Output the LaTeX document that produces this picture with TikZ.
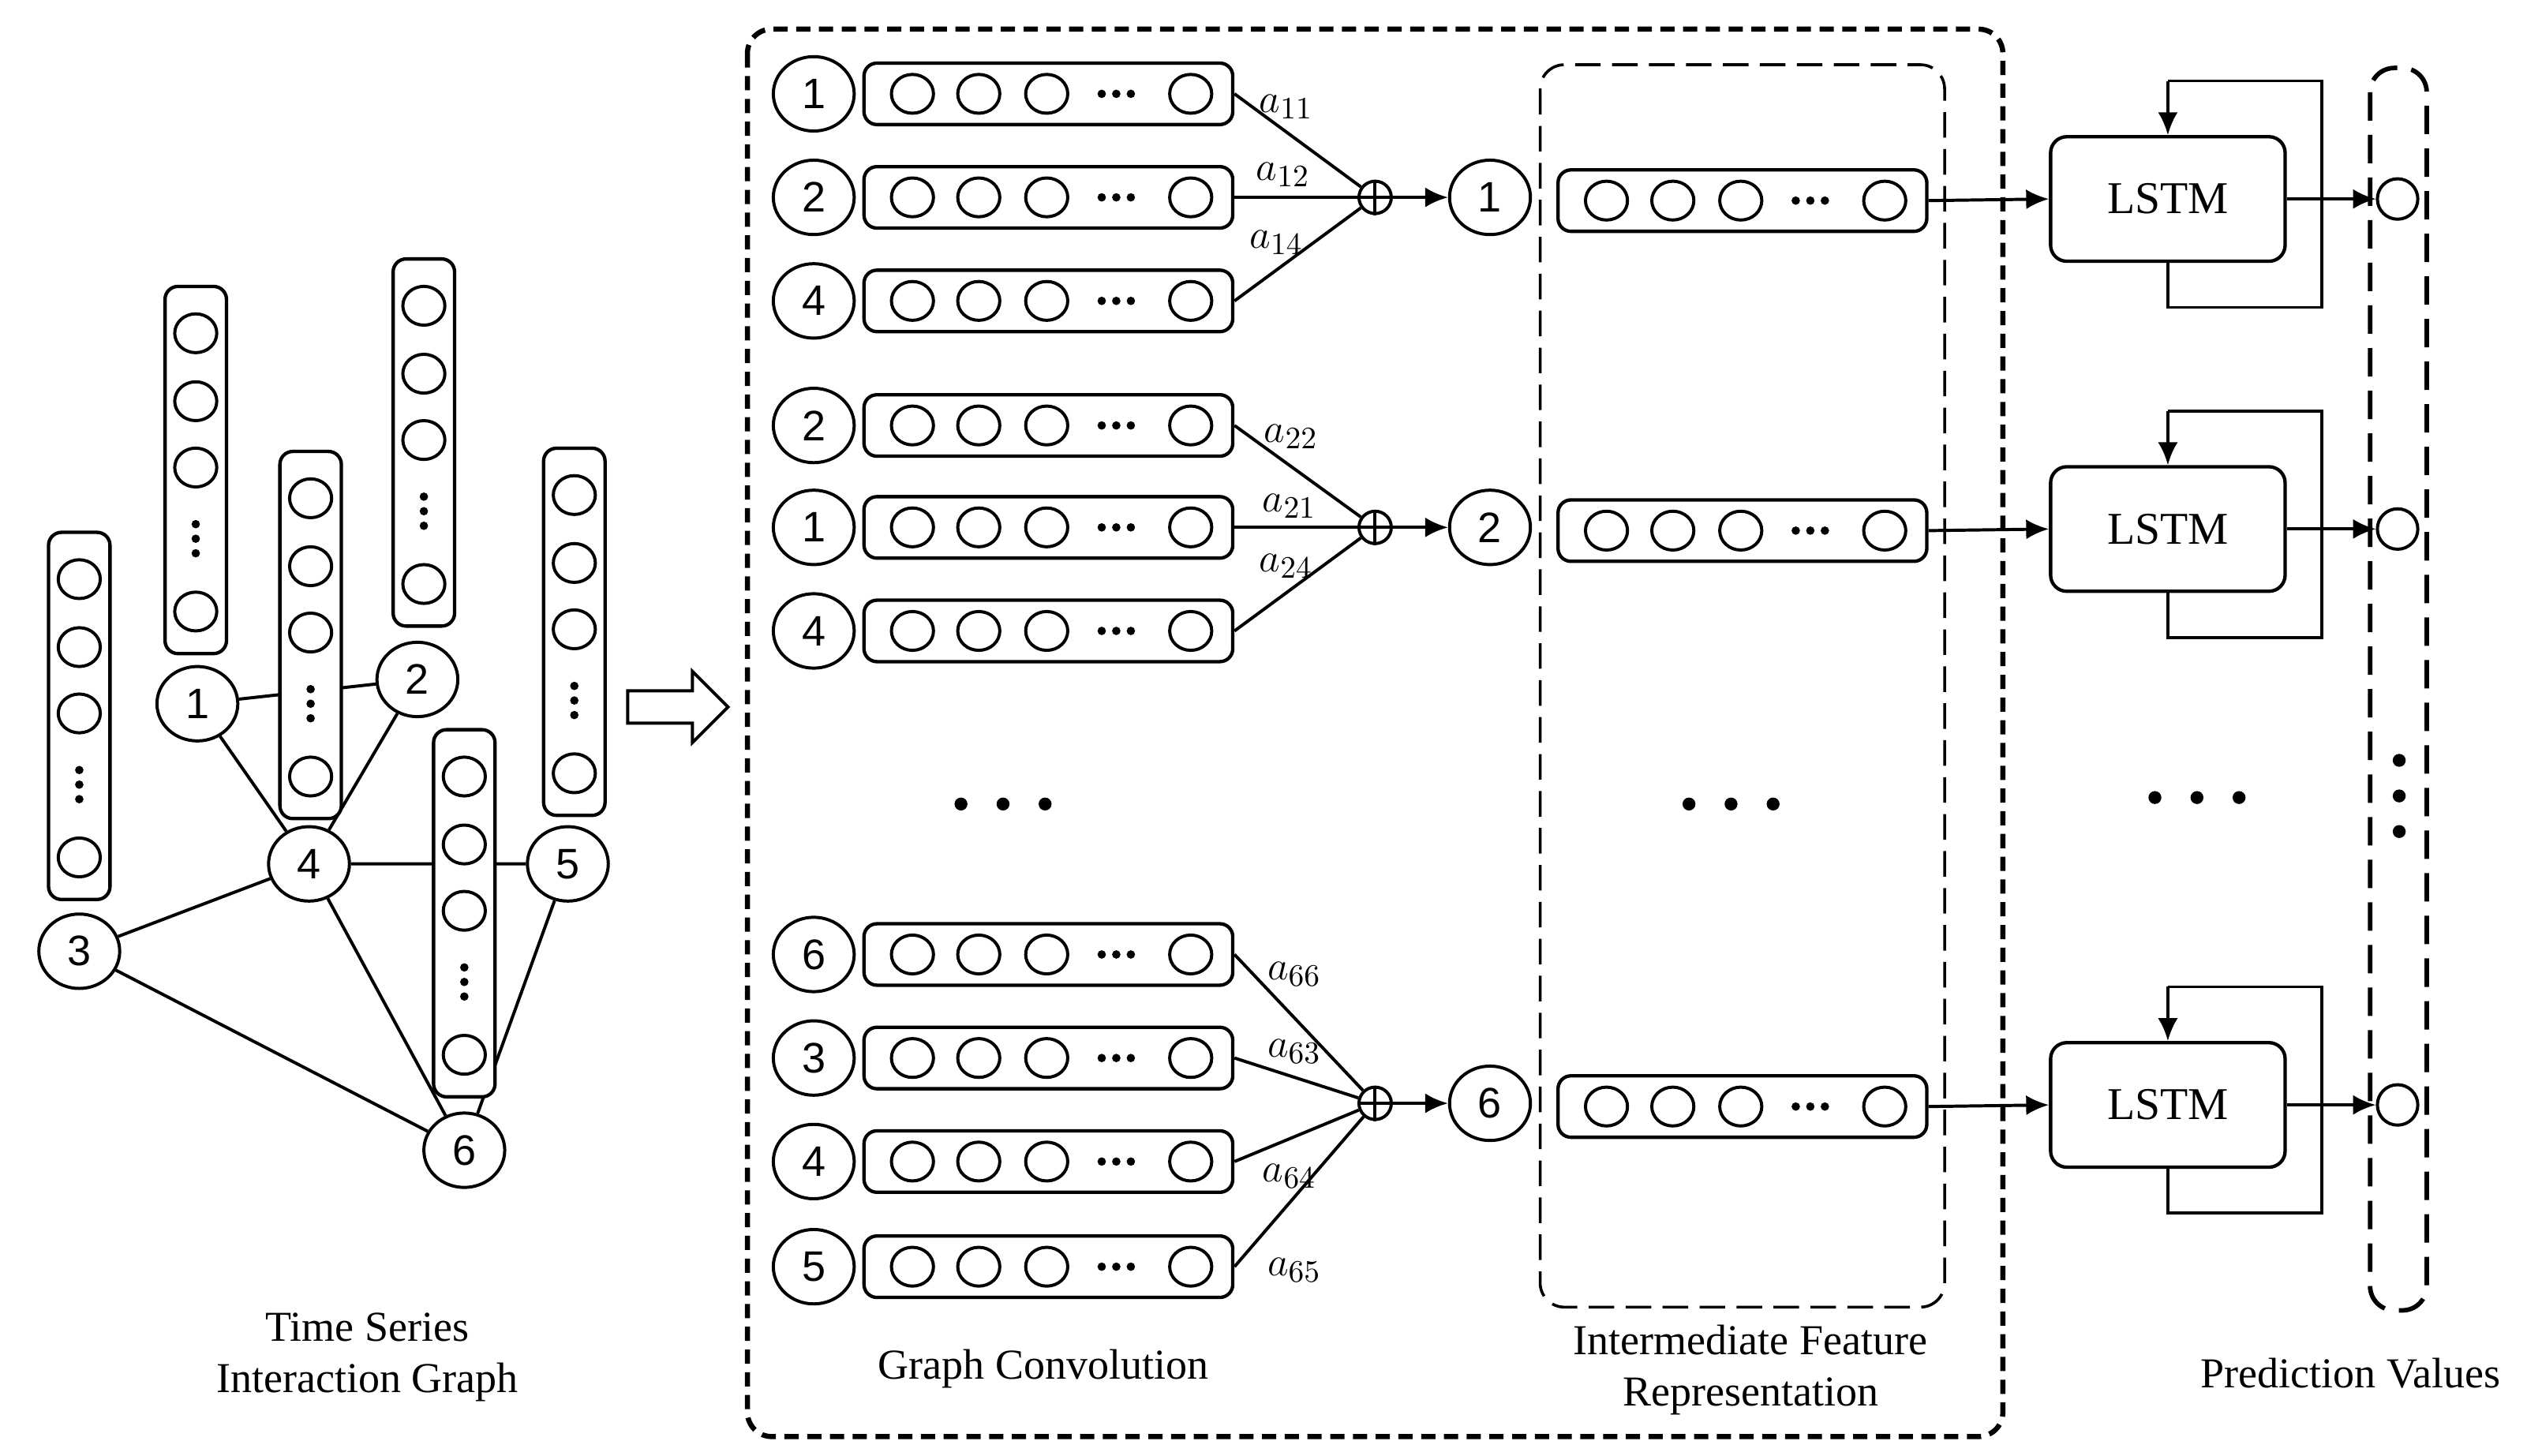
\documentclass[tikz,border=0pt]{standalone}
\usepackage{fontspec}
\setmainfont{Liberation Serif}
\newfontfamily\numfont{Liberation Sans}
\usetikzlibrary{shapes.geometric,arrows.meta,calc,backgrounds}
\newcommand{\hvec}[3]{%
  \node[vecbox,minimum width=4.56cm,minimum height=0.76cm,anchor=west] (#3) at (#1,#2) {};
  \foreach \dx in {31,72,114,203} \node[cell] at (#1+\dx,#2) {};
  \foreach \dx in {148,157,166} \fill (#1+\dx,#2) circle (2.6);
}
\newcommand{\vvec}[3]{%
  \node[vecbox,minimum width=0.76cm,minimum height=4.54cm,anchor=north] (#3) at (#1,#2) {};
  \foreach \dy in {30,72,113,202} \node[cell] at (#1,#2+\dy) {};
  \foreach \dy in {148,157,166} \fill (#1,#2+\dy) circle (2.6);
}
\newcommand{\lstmblk}[3]{% y center, name, output circle name
  \node[lstm] (#2) at (1340,#1) {LSTM};
  \coordinate (#2t) at (1340,#1-73);
  \coordinate (#2r) at (1435,#1-73);
  \coordinate (#2rb) at (1435,#1+67);
  \coordinate (#2b) at (1340,#1+67);
  \draw[line] (#2.south) -- (#2b) -- (#2rb) -- (#2r) -- (#2t);
  \draw[arr] (#2t) -- (#2.north);
  \node[pcell] (#3) at (1482,#1) {};
  \draw[arr] (#2.east) -- (#3.west);
}
\begin{document}
\begin{tikzpicture}[x=0.02cm,y=-0.02cm,
  line/.style={line width=1.1pt},
  arr/.style={line width=1.1pt,-{Latex[length=8pt,width=7pt]}},
  vecbox/.style={draw,line width=1.2pt,rounded corners=0.16cm,fill=white,inner sep=0pt},
  cell/.style={draw,ellipse,line width=1.1pt,minimum width=0.52cm,minimum height=0.48cm,inner sep=0pt},
  num/.style={draw,ellipse,line width=1.1pt,fill=white,minimum width=1.0cm,minimum height=0.92cm,inner sep=0pt,font=\numfont\fontsize{15}{15}\selectfont},
  sumn/.style={draw,circle,line width=1.1pt,minimum size=0.4cm,inner sep=0pt},
  lstm/.style={draw,line width=1.2pt,rounded corners=0.2cm,minimum width=2.9cm,minimum height=1.54cm,font=\fontsize{16}{16}\selectfont},
  pcell/.style={draw,circle,line width=1.1pt,minimum size=0.5cm,inner sep=0pt},
  lab/.style={font=\fontsize{15}{15}\selectfont},
  txt/.style={font=\fontsize{15}{18}\selectfont,align=center}]
\useasboundingbox (0,0) rectangle (1562,900);

% ---------- left graph ----------
\vvec{49}{328}{c3}
\vvec{121}{176}{c1}
\vvec{192}{278}{c4}
\vvec{262}{159}{c2}
\vvec{287}{450}{c6}
\vvec{355}{276}{c5}
\node[num] (g1) at (122,435) {1};
\node[num] (g2) at (258,420) {2};
\node[num] (g3) at (49,588) {3};
\node[num] (g4) at (191,534) {4};
\node[num] (g5) at (351,534) {5};
\node[num] (g6) at (287,711) {6};
\begin{pgfonlayer}{background}
\draw[line] (g1)--(g2) (g1)--(g4) (g2)--(g4) (g3)--(g4) (g3)--(g6)
  (g4)--(g6) (g4)--(g5) (g5)--(g6);
\end{pgfonlayer}
\node[txt] (tl) at (227,839) {Time Series\\Interaction Graph};

% hollow arrow
\draw[line] (388,427) -- (428,427) -- (428,415) -- (450,437) -- (428,459) -- (428,447) -- (388,447) -- cycle;

% ---------- graph convolution ----------
\draw[line width=1.8pt,dash pattern=on 5pt off 3pt,rounded corners=0.3cm] (462,18) rectangle (1238,888);

\foreach \y/\n/\nm in {58/1/r11,122/2/r12,186/4/r14,263/2/r22,326/1/r21,390/4/r24,590/6/r66,654/3/r63,718/4/r64,783/5/r65}{
  \node[num] (n\nm) at (503,\y) {\n};
  \hvec{533}{\y}{\nm}
}
\node[sumn] (s1) at (850,122) {};
\node[sumn] (s2) at (850,326) {};
\node[sumn] (s3) at (850,682) {};
\foreach \s in {s1,s2,s3} \draw[line] (\s.north)--(\s.south) (\s.west)--(\s.east);
\foreach \r in {r11,r12,r14} \draw[line] (\r.east) -- (s1);
\foreach \r in {r22,r21,r24} \draw[line] (\r.east) -- (s2);
\foreach \r in {r66,r63,r64,r65} \draw[line] (\r.east) -- (s3);
\node[lab] at (795,66) {$a_{11}$};
\node[lab] at (793,108) {$a_{12}$};
\node[lab] at (789,150) {$a_{14}$};
\node[lab] at (798,270) {$a_{22}$};
\node[lab] at (797,313) {$a_{21}$};
\node[lab] at (795,350) {$a_{24}$};
\node[lab] at (800,602) {$a_{66}$};
\node[lab] at (800,650) {$a_{63}$};
\node[lab] at (797,727) {$a_{64}$};
\node[lab] at (800,785) {$a_{65}$};
\node[num] (o1) at (921,122) {1};
\node[num] (o2) at (921,326) {2};
\node[num] (o6) at (921,682) {6};
\draw[arr] (s1) -- (o1);
\draw[arr] (s2) -- (o2);
\draw[arr] (s3) -- (o6);
\foreach \dx in {-26,0,26} \fill (620+\dx,497) circle (4);
\node[txt] (tg) at (645,846) {Graph Convolution};

% ---------- intermediate ----------
\draw[line width=1pt,dash pattern=on 9pt off 4pt,rounded corners=0.3cm] (952,40) rectangle (1202,808);
\hvec{962}{124}{m1}
\hvec{962}{328}{m2}
\hvec{962}{684}{m3}
\foreach \dx in {-26,0,26} \fill (1070+\dx,497) circle (4);
\node[txt] (ti) at (1082,847) {Intermediate Feature\\Representation};

% ---------- LSTM ----------
\lstmblk{123}{L1}{p1}
\lstmblk{327}{L2}{p2}
\lstmblk{683}{L3}{p3}
\draw[arr] (m1.east) -- (L1.west);
\draw[arr] (m2.east) -- (L2.west);
\draw[arr] (m3.east) -- (L3.west);
\foreach \dx in {-26,0,26} \fill (1358+\dx,493) circle (4);

% ---------- prediction ----------
\draw[line width=1.6pt,dash pattern=on 10pt off 5pt,rounded corners=0.3cm] (1465,42) rectangle (1500,810);
\foreach \dy in {-22,0,22} \fill (1483,492+\dy) circle (4);
\node[txt] (tp) at (1453,849) {Prediction Values};
\end{tikzpicture}
\end{document}
